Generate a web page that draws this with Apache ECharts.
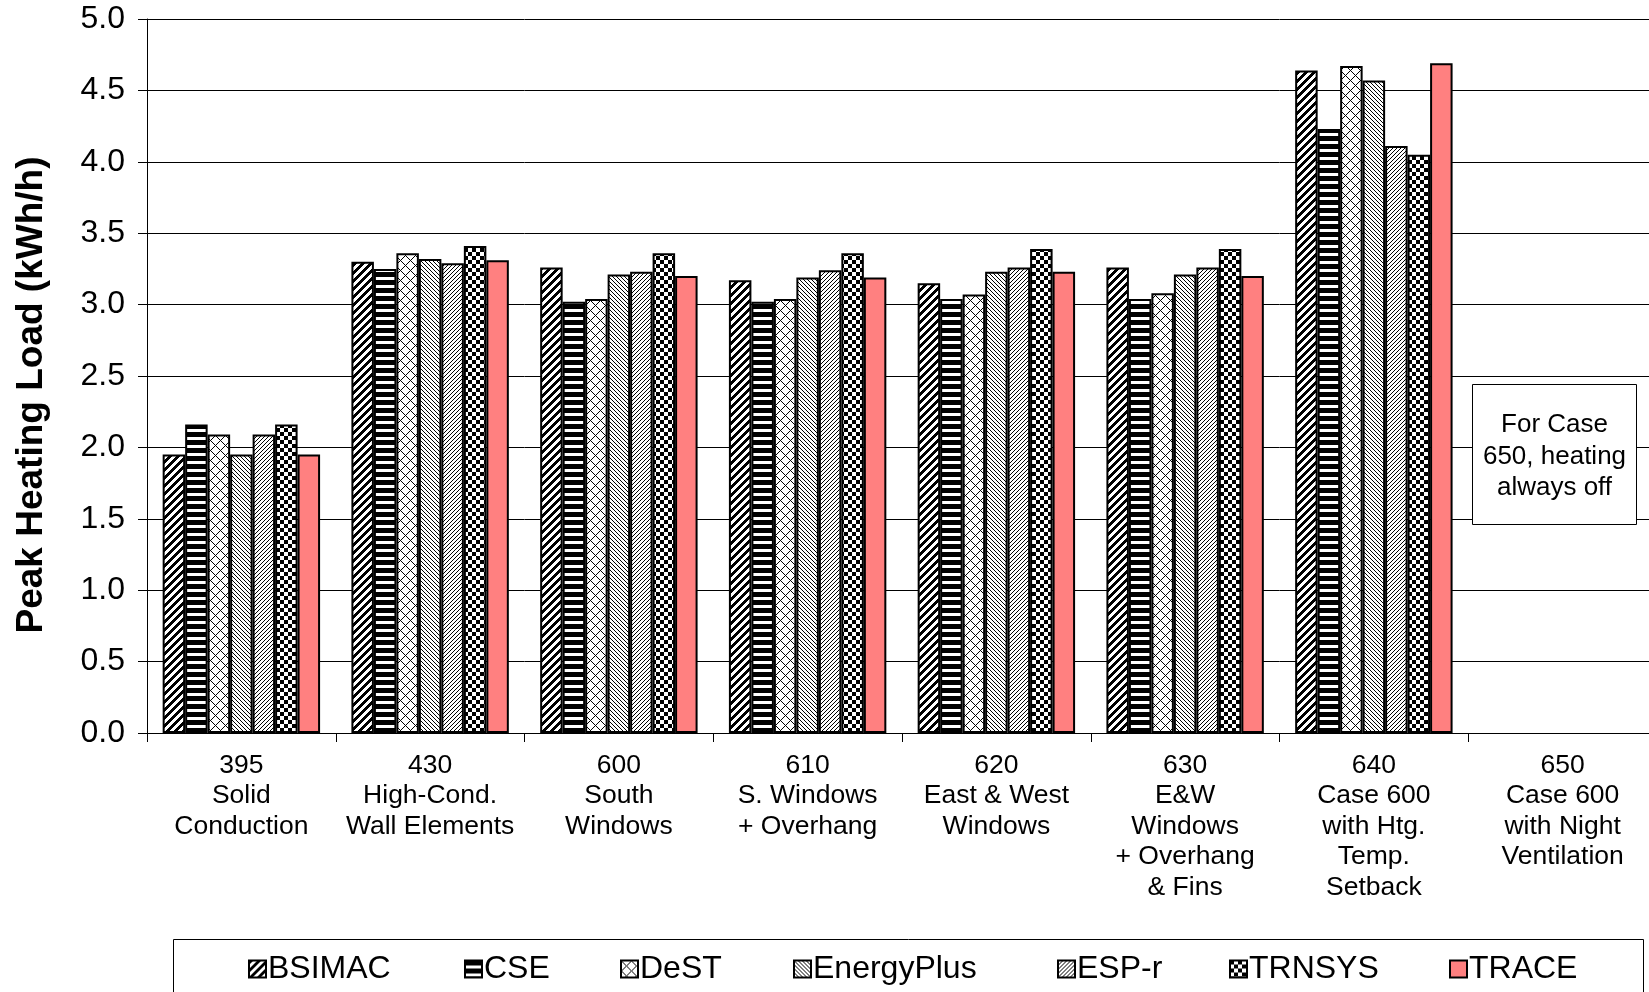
<!DOCTYPE html>
<html><head><meta charset="utf-8">
<script src="https://cdn.jsdelivr.net/npm/echarts@6/dist/echarts.min.js"></script>
<style>html,body{margin:0;padding:0;background:#fff;overflow:hidden}#c{width:1660px;height:992px}</style>
</head><body><div id="c"></div>
<script>
const categories = ['395\nSolid\nConduction','430\nHigh-Cond.\nWall Elements','600\nSouth\nWindows','610\nS. Windows\n+ Overhang','620\nEast & West\nWindows','630\nE&W\nWindows\n+ Overhang\n& Fins','640\nCase 600\nwith Htg.\nTemp.\nSetback','650\nCase 600\nwith Night\nVentilation'];
const seriesNames = ['BSIMAC','CSE','DeST','EnergyPlus','ESP-r','TRNSYS','TRACE'];
const BSIMAC     = [1.95, 3.30, 3.26, 3.17, 3.15, 3.26, 4.64, null];
const CSE        = [2.16, 3.25, 3.02, 3.02, 3.04, 3.04, 4.23, null];
const DeST       = [2.09, 3.36, 3.04, 3.04, 3.07, 3.08, 4.67, null];
const EnergyPlus = [1.95, 3.32, 3.21, 3.19, 3.23, 3.21, 4.57, null];
const ESPr       = [2.09, 3.29, 3.23, 3.24, 3.26, 3.26, 4.11, null];
const TRNSYS     = [2.16, 3.41, 3.36, 3.36, 3.39, 3.39, 4.05, null];
const TRACE      = [1.95, 3.31, 3.20, 3.19, 3.23, 3.20, 4.69, null];
const yTicks = [0, 0.5, 1.0, 1.5, 2.0, 2.5, 3.0, 3.5, 4.0, 4.5, 5.0];
const yTitle = 'Peak Heating Load (kWh/h)';
const noteText = 'For Case\n650, heating\nalways off';

const values = [BSIMAC, CSE, DeST, EnergyPlus, ESPr, TRNSYS, TRACE];
const FONT = '"Liberation Sans", Arial, sans-serif';

function tile(n, fn) {
  const c = document.createElement('canvas');
  c.width = n; c.height = n;
  const ctx = c.getContext('2d');
  ctx.fillStyle = '#fff'; ctx.fillRect(0, 0, n, n);
  ctx.fillStyle = '#000';
  for (let y = 0; y < n; y++) for (let x = 0; x < n; x++) if (fn(x, y)) ctx.fillRect(x, y, 1, 1);
  return { image: c, repeat: 'repeat' };
}
const fills = [
  tile(8, (x, y) => ((x + y) % 8) < 4),                       // wide upward diagonal
  tile(8, (x, y) => y < 5),                                    // wide horizontal
  tile(10, (x, y) => ((x + y) % 10) === 0 || ((x - y + 10) % 10) === 0), // diagonal cross
  tile(4, (x, y) => ((x - y + 8) % 4) === 0),                  // downward diagonal
  tile(4, (x, y) => ((x + y) % 4) === 0),                      // upward diagonal
  tile(8, (x, y) => ((Math.floor(x / 4) + Math.floor(y / 4)) % 2) === 0), // checker
  '#FF8080'
];

const legendLefts = [243, 459, 615, 788, 1052, 1224, 1444];

const chart = echarts.init(document.getElementById('c'), null, { renderer: 'canvas' });
chart.setOption({
  animation: false,
  backgroundColor: '#fff',
  grid: { left: 147, top: 19, right: 3, bottom: 259, containLabel: false },
  xAxis: {
    type: 'category', data: categories,
    axisLine: { lineStyle: { color: '#000', width: 1 } },
    axisTick: { show: true, length: 9, lineStyle: { color: '#000' } },
    axisLabel: { color: '#000', fontFamily: FONT, fontSize: 26.5, lineHeight: 30.5, margin: 17, interval: 0 }
  },
  yAxis: {
    type: 'value', min: 0, max: 5, interval: 0.5,
    axisLine: { show: true, lineStyle: { color: '#000', width: 1 } },
    axisTick: { show: true, length: 9, lineStyle: { color: '#000' } },
    axisLabel: { color: '#000', fontFamily: FONT, fontSize: 32, margin: 22, formatter: v => v.toFixed(1) },
    splitLine: { show: true, lineStyle: { color: '#000', width: 1 } }
  },
  legend: seriesNames.map((n, i) => ({
    data: [n], left: legendLefts[i], top: 948, icon: 'rect', itemWidth: 17, itemHeight: 17, itemGap: 0,
    textStyle: { color: '#000', fontFamily: FONT, fontSize: 32, padding: [0, 0, 0, -3] }
  })),
  series: seriesNames.map((n, i) => ({
    name: n, type: 'bar', data: values[i], barGap: '0%', barCategoryGap: '16.6%',
    itemStyle: { color: fills[i], borderColor: '#000', borderWidth: 2 }
  })),
  graphic: [
    { type: 'text', x: 32, y: 395, rotation: Math.PI / 2, style: { text: yTitle, fill: '#000', font: 'bold 37px ' + FONT, textAlign: 'center', textVerticalAlign: 'middle' } },
    { type: 'rect', z: 100, shape: { x: 173.5, y: 939.5, width: 1470, height: 80 }, style: { fill: 'none', stroke: '#000', lineWidth: 1 } },
    { type: 'rect', z: 100, shape: { x: 1472.5, y: 384.5, width: 164, height: 140 }, style: { fill: '#fff', stroke: '#000', lineWidth: 1 } },
    { type: 'text', z: 101, x: 1554.5, y: 456.5, style: { text: noteText, fill: '#000', font: '26px ' + FONT, textAlign: 'center', textVerticalAlign: 'middle', lineHeight: 31.7 } }
  ]
});
</script></body></html>
